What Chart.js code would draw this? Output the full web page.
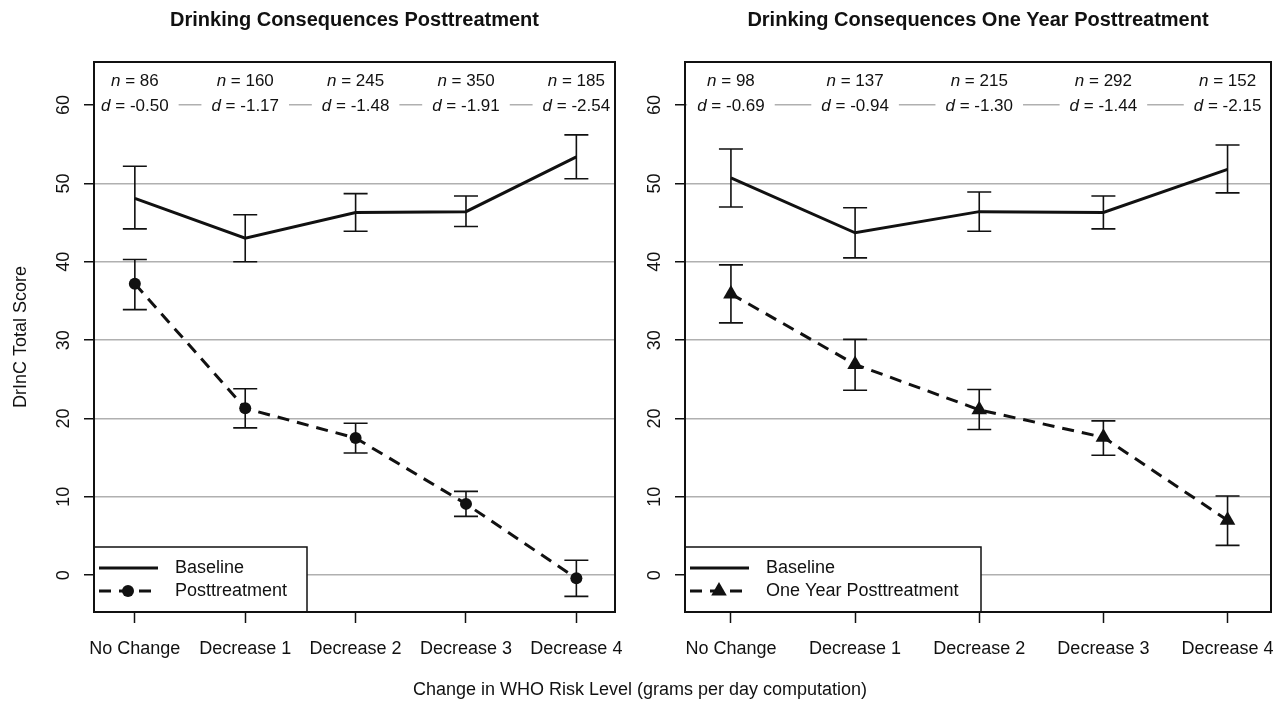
<!DOCTYPE html>
<html>
<head>
<meta charset="utf-8">
<script src="https://cdn.jsdelivr.net/npm/chart.js@4.4.1/dist/chart.umd.min.js"></script>
<style>
  html, body { margin: 0; padding: 0; background: #fff; }
  #wrap { position: relative; width: 1280px; height: 702px; }
  canvas { position: absolute; top: 0; }
  #left { left: 0; }
  #right { left: 640px; }
  #xtitle {
    position: absolute; left: 0; top: 678px; width: 1280px; text-align: center;
    font: 18px 'Liberation Sans', Arial, sans-serif; line-height: 22px; color: #111;
  }
</style>
</head>
<body>
<div id="wrap">
  <canvas id="left" width="640" height="702" style="width:640px;height:702px"></canvas>
  <canvas id="right" width="640" height="702" style="width:640px;height:702px"></canvas>
  <div id="xtitle">Change in WHO Risk Level (grams per day computation)</div>
</div>
<script>
const categories = ['No Change', 'Decrease 1', 'Decrease 2', 'Decrease 3', 'Decrease 4'];
const yTicks = [0, 10, 20, 30, 40, 50, 60];

// left panel: posttreatment
const postN = [86, 160, 245, 350, 185];
const postD = ['-0.50', '-1.17', '-1.48', '-1.91', '-2.54'];
const postBase = [48.1, 43.0, 46.3, 46.4, 53.4];
const postBaseLo = [44.2, 40.0, 43.9, 44.5, 50.6];
const postBaseHi = [52.2, 46.0, 48.7, 48.4, 56.2];
const postVal = [37.2, 21.3, 17.5, 9.1, -0.4];
const postValLo = [33.9, 18.8, 15.6, 7.5, -2.7];
const postValHi = [40.3, 23.8, 19.4, 10.7, 1.9];

// right panel: one year posttreatment
const yearN = [98, 137, 215, 292, 152];
const yearD = ['-0.69', '-0.94', '-1.30', '-1.44', '-2.15'];
const yearBase = [50.7, 43.7, 46.4, 46.3, 51.8];
const yearBaseLo = [47.0, 40.5, 43.9, 44.2, 48.8];
const yearBaseHi = [54.4, 46.9, 48.9, 48.4, 54.9];
const yearVal = [35.9, 26.9, 21.1, 17.6, 7.0];
const yearValLo = [32.2, 23.6, 18.6, 15.3, 3.8];
const yearValHi = [39.6, 30.1, 23.7, 19.7, 10.1];

const FONT = "'Liberation Sans', Arial, Helvetica, sans-serif";
Chart.defaults.font.family = FONT;
Chart.defaults.color = '#111';

function toPoints(arr) {
  return arr.map((v, i) => ({ x: i, y: v }));
}

function drawMarker(ctx, style, x, y, r) {
  ctx.beginPath();
  if (style === 'triangle') {
    ctx.moveTo(x, y - r);
    ctx.lineTo(x + r * 0.866, y + r * 0.5);
    ctx.lineTo(x - r * 0.866, y + r * 0.5);
    ctx.closePath();
  } else {
    ctx.arc(x, y, r, 0, Math.PI * 2);
  }
  ctx.fill();
}

function drawMath(ctx, sym, rest, cx, cy, withBox, area) {
  ctx.font = 'italic 17px ' + FONT;
  const w1 = ctx.measureText(sym).width;
  ctx.font = '17px ' + FONT;
  const w2 = ctx.measureText(rest).width;
  const start = cx - (w1 + w2) / 2;
  if (withBox) {
    ctx.save();
    ctx.beginPath();
    ctx.rect(area.left, area.top, area.right - area.left, area.bottom - area.top);
    ctx.clip();
    ctx.fillStyle = '#fff';
    ctx.fillRect(start - 10, cy - 11, w1 + w2 + 20, 22);
    ctx.restore();
  }
  ctx.fillStyle = '#111';
  ctx.textBaseline = 'middle';
  ctx.textAlign = 'left';
  ctx.font = 'italic 17px ' + FONT;
  ctx.fillText(sym, start, cy);
  ctx.font = '17px ' + FONT;
  ctx.fillText(rest, start + w1, cy);
}

const panelPlugin = {
  id: 'panel',
  beforeDatasetsDraw(chart, args, opts) {
    const { ctx, chartArea } = chart;
    const xs = chart.scales.x, ys = chart.scales.y;
    ctx.save();
    const yd = ys.getPixelForValue(60) + 1;
    const yn = yd - 25;
    opts.n.forEach((n, i) => {
      const px = xs.getPixelForValue(i);
      drawMath(ctx, 'd', ' = ' + opts.d[i], px, yd, true, chartArea);
      drawMath(ctx, 'n', ' = ' + n, px, yn, false, chartArea);
    });
    // error bars
    ctx.strokeStyle = '#111';
    ctx.lineWidth = 1.6;
    opts.bars.forEach(b => {
      b.lo.forEach((lo, i) => {
        const px = xs.getPixelForValue(i);
        const p1 = ys.getPixelForValue(lo), p2 = ys.getPixelForValue(b.hi[i]);
        ctx.beginPath();
        ctx.moveTo(px, p1); ctx.lineTo(px, p2);
        ctx.moveTo(px - 12, p1); ctx.lineTo(px + 12, p1);
        ctx.moveTo(px - 12, p2); ctx.lineTo(px + 12, p2);
        ctx.stroke();
      });
    });
    ctx.restore();
  },
  afterDatasetsDraw(chart, args, opts) {
    const { ctx, chartArea } = chart;
    ctx.save();
    // legend
    const lx = chartArea.left, ly = 547;
    ctx.fillStyle = '#fff';
    ctx.fillRect(lx, ly, opts.legendWidth, chartArea.bottom - ly);
    ctx.strokeStyle = '#111';
    ctx.lineWidth = 1.5;
    ctx.strokeRect(lx, ly, opts.legendWidth, chartArea.bottom - ly);
    chart.data.datasets.forEach((ds, i) => {
      const rowY = 568 + i * 23;
      ctx.strokeStyle = '#111';
      ctx.lineWidth = ds.borderWidth;
      ctx.setLineDash(ds.borderDash || []);
      ctx.beginPath();
      ctx.moveTo(lx + 5, rowY); ctx.lineTo(lx + 64, rowY);
      ctx.stroke();
      ctx.setLineDash([]);
      if (ds.pointRadius > 0) {
        ctx.fillStyle = '#111';
        drawMarker(ctx, ds.pointStyle, lx + 34, rowY, ds.pointRadius);
      }
      ctx.fillStyle = '#111';
      ctx.font = '18px ' + FONT;
      ctx.textAlign = 'left';
      ctx.textBaseline = 'middle';
      ctx.fillText(ds.label, lx + 81, rowY);
    });
    // frame
    ctx.strokeStyle = '#111';
    ctx.lineWidth = 2;
    ctx.strokeRect(chartArea.left, chartArea.top, chartArea.right - chartArea.left, chartArea.bottom - chartArea.top);
    ctx.restore();
  }
};

function makePanel(id, opts) {
  return new Chart(document.getElementById(id), {
    type: 'line',
    data: {
      datasets: [
        {
          label: 'Baseline',
          data: toPoints(opts.base),
          borderColor: '#111',
          borderWidth: 3,
          pointRadius: 0,
          tension: 0
        },
        {
          label: opts.label,
          data: toPoints(opts.val),
          borderColor: '#111',
          borderWidth: 3,
          borderDash: [12, 8],
          pointStyle: opts.pointStyle,
          pointRadius: opts.pointRadius,
          pointBackgroundColor: '#111',
          pointBorderWidth: 0,
          tension: 0
        }
      ]
    },
    options: {
      responsive: false,
      animation: false,
      events: [],
      layout: { padding: { left: 0, right: opts.padRight, top: 0, bottom: 0 } },
      plugins: {
        legend: { display: false },
        tooltip: { enabled: false },
        title: {
          display: true,
          text: opts.title,
          fullSize: false,
          color: '#111',
          font: { size: 20, weight: 'bold' },
          padding: { top: 8, bottom: 30 }
        },
        panel: {
          n: opts.n,
          d: opts.d,
          legendWidth: opts.legendWidth,
          bars: [
            { lo: opts.baseLo, hi: opts.baseHi },
            { lo: opts.valLo, hi: opts.valHi }
          ]
        }
      },
      scales: {
        x: {
          type: 'linear',
          min: -0.37,
          max: 4.35,
          afterBuildTicks: s => { s.ticks = categories.map((c, i) => ({ value: i })); },
          afterFit: s => {
            s.height = 90;
            s.paddingLeft = 0;
            s.paddingRight = 0;
          },
          grid: { drawOnChartArea: false, drawTicks: true, tickLength: 11, tickColor: '#111', tickWidth: 1.5 },
          border: { display: false },
          ticks: {
            autoSkip: false, maxRotation: 0, minRotation: 0, padding: 15,
            color: '#111', font: { size: 18 },
            callback: v => categories[v]
          }
        },
        y: {
          type: 'linear',
          min: -4.7,
          max: 65.5,
          afterBuildTicks: s => { s.ticks = yTicks.map(v => ({ value: v })); },
          afterFit: s => {
            s.width = opts.yWidth;
            s.paddingTop = 0;
            s.paddingBottom = 0;
          },
          grid: { color: '#b0b0b0', lineWidth: 1.5, tickColor: '#111', tickLength: 10, tickWidth: 1.5 },
          border: { display: false },
          ticks: {
            minRotation: 90, maxRotation: 90, crossAlign: 'center', padding: 10,
            color: '#111', font: { size: 18 }
          },
          title: {
            display: opts.yTitle !== '',
            text: opts.yTitle,
            color: '#111',
            font: { size: 18 },
            padding: { top: 10, bottom: 0 }
          }
        }
      }
    },
    plugins: [panelPlugin]
  });
}

makePanel('left', {
  title: 'Drinking Consequences Posttreatment',
  label: 'Posttreatment',
  base: postBase, baseLo: postBaseLo, baseHi: postBaseHi,
  val: postVal, valLo: postValLo, valHi: postValHi,
  n: postN, d: postD,
  pointStyle: 'circle', pointRadius: 6,
  yWidth: 94, padRight: 25, legendWidth: 213,
  yTitle: 'DrInC Total Score'
});

makePanel('right', {
  title: 'Drinking Consequences One Year Posttreatment',
  label: 'One Year Posttreatment',
  base: yearBase, baseLo: yearBaseLo, baseHi: yearBaseHi,
  val: yearVal, valLo: yearValLo, valHi: yearValHi,
  n: yearN, d: yearD,
  pointStyle: 'triangle', pointRadius: 9,
  yWidth: 45, padRight: 7, legendWidth: 296,
  yTitle: ''
});
</script>
</body>
</html>
